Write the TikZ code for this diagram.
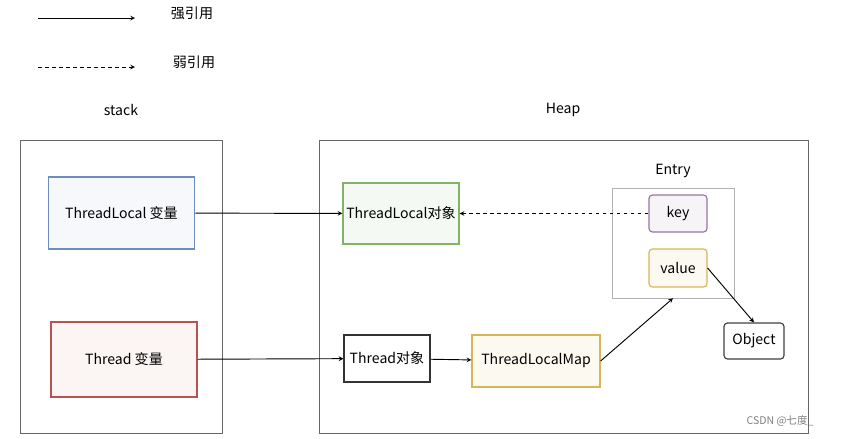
\documentclass[tikz,border=0pt]{standalone}
\usepackage{fontspec}
\setmainfont{Noto Sans CJK SC}
\usetikzlibrary{arrows,shapes,positioning}
\definecolor{tlblue}{RGB}{108,142,191}
\definecolor{tlred}{RGB}{184,84,80}
\definecolor{tlgreen}{RGB}{130,179,102}
\definecolor{tlyellow}{RGB}{214,182,86}
\definecolor{tlpurple}{RGB}{150,115,166}

\begin{document}
\begin{tikzpicture}[x=0.03cm,y=-0.03cm,font=\large,
  box/.style={draw, line width=1pt, inner sep=2pt},
  ref/.style={thick, ->, >=stealth},
  weak/.style={ref, dashed}]
\useasboundingbox (0,0) rectangle (842,438);

% legend
\coordinate (s1) at (38,18);  \coordinate (e1) at (135,18);
\coordinate (s2) at (38,67);  \coordinate (e2) at (135,67);
\draw [ref] (s1) -- (e1);
\draw [weak] (s2) -- (e2);
\node (strong) at (192,13) {强引用};
\node (weaklbl) at (194,62) {弱引用};

% areas
\node (stacklbl) at (121,110) {stack};
\node (heaplbl) at (563,110) {Heap};
\draw [gray!80!black] (20,140) rectangle (222,433);
\draw [gray!80!black] (319,140) rectangle (808,433);

% stack variables
\node [box, draw=tlblue, fill=tlblue!6, minimum width=4.4cm, minimum height=2.16cm] (tlvar) at (121.5,213) {ThreadLocal 变量};
\node [box, draw=tlred, fill=tlred!6, minimum width=4.38cm, minimum height=2.25cm] (thvar) at (124,359.5) {Thread 变量};

% heap objects
\node [box, draw=tlgreen, fill=tlgreen!8, minimum width=3.48cm, minimum height=1.83cm] (tlobj) at (401,213.5) {ThreadLocal对象};
\node [box, draw=black!80, fill=white, minimum width=2.58cm, minimum height=1.41cm] (thobj) at (387,358.5) {Thread对象};
\node [box, draw=tlyellow, fill=tlyellow!8, minimum width=3.84cm, minimum height=1.56cm] (tlmap) at (536,361) {ThreadLocalMap};

% entry
\node (entrylbl) at (673,171) {Entry};
\node [draw=gray!60, minimum width=3.66cm, minimum height=3.3cm] (entry) at (673,243) {};
\node [box, rounded corners=3pt, draw=tlpurple, fill=tlpurple!8, minimum width=1.74cm, minimum height=1.11cm] (key) at (678,213.5) {key};
\node [box, rounded corners=3pt, draw=tlyellow, fill=tlyellow!8, minimum width=1.74cm, minimum height=1.14cm] (value) at (678,268) {value};
\node [box, rounded corners=3pt, draw=black!75, fill=white, minimum width=1.8cm, minimum height=1.08cm] (obj) at (754,341) {Object};

% references
\draw [ref] (tlvar) -- (tlobj);
\draw [ref] (thvar) -- (thobj);
\draw [ref] (thobj) -- (tlmap);
\draw [ref] (tlmap.east) -- (entry.south);
\draw [ref] (value.east) -- (obj.north);
\draw [weak] (key) -- (tlobj);

\node [gray, font=\small] (mark) at (780,421) {CSDN @七度\_};
\end{tikzpicture}
\end{document}
